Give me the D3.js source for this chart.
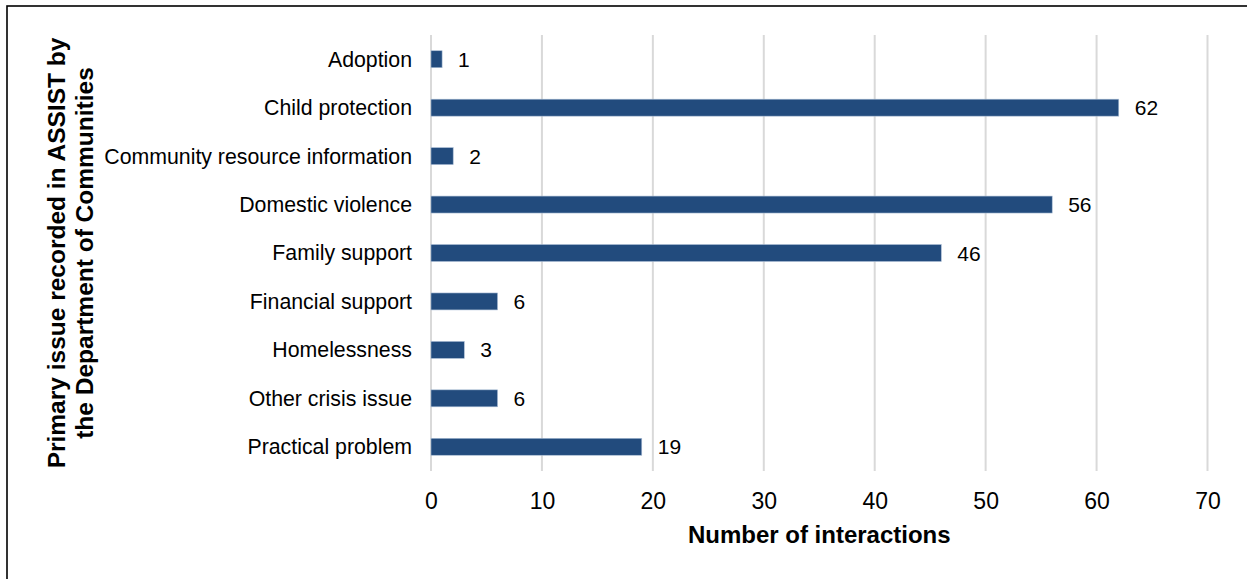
<!DOCTYPE html>
<html>
<head>
<meta charset="utf-8">
<script src="https://cdn.jsdelivr.net/npm/d3@7"></script>
<style>
  html, body { margin: 0; padding: 0; background: #fff; }
  svg { display: block; font-family: "Liberation Sans", Arial, sans-serif; }
</style>
</head>
<body>
<svg id="chart" width="1247" height="579"></svg>
<script>
// Primary issue categories and interaction counts
const categories = [
  "Adoption",
  "Child protection",
  "Community resource information",
  "Domestic violence",
  "Family support",
  "Financial support",
  "Homelessness",
  "Other crisis issue",
  "Practical problem"
];
const interactions = [1, 62, 2, 56, 46, 6, 3, 6, 19];
const xTicks = [0, 10, 20, 30, 40, 50, 60, 70];
const xTitle = "Number of interactions";
const yTitleLines = ["Primary issue recorded in ASSIST by", "the Department of Communities"];

const data = categories.map((c, i) => ({ category: c, value: interactions[i] }));

const svg = d3.select("#chart");
const W = 1247, H = 579;
const plot = { left: 431, right: 1207.5, top: 35, bottom: 471 };

// Outer frame
svg.append("rect")
  .attr("x", 7).attr("y", 6)
  .attr("width", W + 10).attr("height", H + 10)
  .attr("fill", "none").attr("stroke", "#000").attr("stroke-width", 1.6);

const x = d3.scaleLinear().domain([0, 70]).range([plot.left, plot.right]);
const y = d3.scaleBand().domain(categories).range([plot.top, plot.bottom]).paddingInner(0.65).paddingOuter(0.325);

// Vertical gridlines
svg.append("g").selectAll("line").data(xTicks).join("line")
  .attr("x1", d => x(d)).attr("x2", d => x(d))
  .attr("y1", plot.top).attr("y2", plot.bottom)
  .attr("stroke", "#d9d9d9").attr("stroke-width", 2);

// X axis tick labels
const xAxis = d3.axisBottom(x).tickValues(xTicks).tickSize(0).tickPadding(0);
const gx = svg.append("g").attr("transform", `translate(0,${plot.bottom})`).call(xAxis);
gx.select(".domain").remove();
gx.selectAll("text")
  .attr("y", 38).attr("dy", null)
  .attr("font-size", 23).attr("fill", "#000")
  .attr("font-family", "Liberation Sans, Arial, sans-serif");

// Y axis category labels
const yAxis = d3.axisLeft(y).tickSize(0).tickPadding(0);
const gy = svg.append("g").attr("transform", `translate(${plot.left - 19},0)`).call(yAxis);
gy.select(".domain").remove();
gy.selectAll("text")
  .attr("font-size", 21.3).attr("fill", "#000").attr("dy", "0.35em")
  .attr("font-family", "Liberation Sans, Arial, sans-serif");

// Bars
svg.append("g").selectAll("rect").data(data).join("rect")
  .attr("x", x(0))
  .attr("y", d => y(d.category))
  .attr("width", d => x(d.value) - x(0))
  .attr("height", y.bandwidth())
  .attr("fill", "#224b7d")
  .attr("stroke", "#a9bcd4").attr("stroke-width", 0.6);

// Value labels
svg.append("g").selectAll("text").data(data).join("text")
  .attr("x", d => x(d.value) + 16)
  .attr("y", d => y(d.category) + y.bandwidth() / 2)
  .attr("dy", "0.36em")
  .attr("font-size", 21).attr("fill", "#000")
  .text(d => d.value);

// X axis title
svg.append("text")
  .attr("x", (plot.left + plot.right) / 2).attr("y", 543)
  .attr("text-anchor", "middle")
  .attr("font-size", 24).attr("font-weight", "bold").attr("fill", "#000")
  .text(xTitle);

// Y axis title (two lines, rotated)
const yt = svg.append("text")
  .attr("transform", `translate(65,${(plot.top + plot.bottom) / 2}) rotate(-90)`)
  .attr("text-anchor", "middle")
  .attr("font-size", 24.5).attr("font-weight", "bold").attr("fill", "#000");
yTitleLines.forEach((t, i) => {
  yt.append("tspan").attr("x", 0).attr("dy", i === 0 ? 0 : 28).text(t);
});
</script>
</body>
</html>
